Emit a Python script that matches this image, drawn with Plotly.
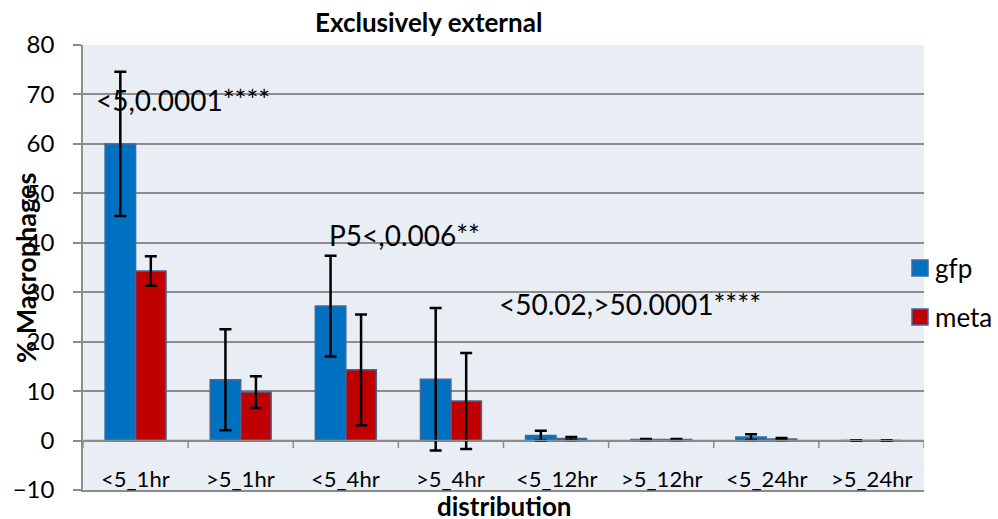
import plotly.graph_objects as go

# Category labels and series values (% macrophages, mean and error)
categories = ["<5_1hr", ">5_1hr", "<5_4hr", ">5_4hr", "<5_12hr", ">5_12hr", "<5_24hr", ">5_24hr"]
gfp_values = [60.0, 12.3, 27.2, 12.4, 1.0, 0.2, 0.7, 0.0]
gfp_errors = [14.6, 10.2, 10.2, 14.4, 1.0, 0.1, 0.6, 0.05]
meta_values = [34.3, 9.8, 14.3, 8.0, 0.4, 0.2, 0.3, 0.0]
meta_errors = [3.0, 3.2, 11.2, 9.7, 0.3, 0.1, 0.2, 0.05]

y_ticks = list(range(-10, 81, 10))

significance_notes = [
    ("<5,0.0001****", 0.45, 68.9),
    ("P5<,0.006**", 2.56, 41.6),
    ("<50.02,>50.0001****", 4.70, 27.6),
]

FONT = "Lato, 'Open Sans', sans-serif"
GRID = "#8c8c8c"
OUTLINE = "#41689a"
COLORS = {"gfp": "#0070c0", "meta": "#c00000"}
series = [("gfp", gfp_values, gfp_errors), ("meta", meta_values, meta_errors)]

fig = go.Figure()
for name, vals, errs in series:
    fig.add_trace(go.Bar(
        name=name, x=categories, y=vals, showlegend=False,
        marker=dict(color=COLORS[name], line=dict(color=OUTLINE, width=1.5)),
        error_y=dict(type="data", array=errs, visible=True,
                     color="black", thickness=2.5, width=6),
    ))

L, R, T, B = 83, 74, 45, 29
W, H = 998, 519
pw, ph = W - L - R, H - T - B

def px_to_paper(px, py):
    return (px - L) / pw, (H - B - py) / ph

# zero line with category-boundary ticks
shapes = [dict(type="line", xref="x", yref="y", x0=-0.5, x1=len(categories) - 0.5,
               y0=0, y1=0, line=dict(color=GRID, width=1.5), layer="above")]
for i in range(len(categories) + 1):
    shapes.append(dict(type="line", xref="x", yref="y", x0=i - 0.5, x1=i - 0.5,
                       y0=0, y1=-1.5, line=dict(color=GRID, width=1.5)))

annotations = [
    dict(text=t, x=x, y=y, xref="x", yref="y", showarrow=False,
         xanchor="center", yanchor="middle",
         font=dict(family=FONT, size=28, color="black"))
    for t, x, y in significance_notes
]
# category labels sit just above the bottom edge of the plot
for i, cat in enumerate(categories):
    annotations.append(dict(text=cat, x=i, y=-7.7, xref="x", yref="y", showarrow=False,
                            xanchor="center", yanchor="middle",
                            font=dict(family=FONT, size=22, color="black")))
for text, (px, py), size, angle in [
    ("<b>Exclusively external</b>", (428, 22), 26, 0),
    ("<b>% Macrophages</b>", (25, 268), 27, -90),
    ("<b>distribution</b>", (504, 506), 26, 0),
]:
    ax, ay = px_to_paper(px, py)
    annotations.append(dict(text=text, x=ax, y=ay, xref="paper", yref="paper",
                            xanchor="center", yanchor="middle", textangle=angle,
                            showarrow=False,
                            font=dict(family=FONT, size=size, color="black")))

# legend: square swatch plus series name
for k, (name, _, _) in enumerate(series):
    cy = 268 + 49 * k
    x0, y0 = px_to_paper(912, cy + 8)
    x1, y1 = px_to_paper(928, cy - 8)
    shapes.append(dict(type="rect", xref="paper", yref="paper", x0=x0, y0=y0, x1=x1, y1=y1,
                       fillcolor=COLORS[name], line=dict(color=OUTLINE, width=1.5)))
    tx, ty = px_to_paper(933, cy)
    annotations.append(dict(text=name, x=tx, y=ty, xref="paper", yref="paper",
                            xanchor="left", yanchor="middle", showarrow=False,
                            font=dict(family=FONT, size=26, color="black")))

fig.update_layout(
    width=W, height=H,
    margin=dict(l=L, r=R, t=T, b=B, autoexpand=False),
    paper_bgcolor="white",
    plot_bgcolor="#e9edf4",
    barmode="group", bargap=0.42, bargroupgap=0,
    font=dict(family=FONT, color="black"),
    showlegend=False,
    shapes=shapes,
    annotations=annotations,
    xaxis=dict(showgrid=False, showline=True, linecolor=GRID, linewidth=1.5,
               ticks="", showticklabels=False,
               range=[-0.5, len(categories) - 0.5]),
    yaxis=dict(range=[-10, 80], tickvals=y_ticks, showgrid=True, gridcolor=GRID,
               gridwidth=1.5, zeroline=False, showline=True, linecolor=GRID,
               linewidth=1.5, ticks="outside", ticklen=8, tickcolor=GRID,
               tickwidth=1.5, tickfont=dict(size=24), ticklabelstandoff=14),
)

fig.write_html("out.html")
